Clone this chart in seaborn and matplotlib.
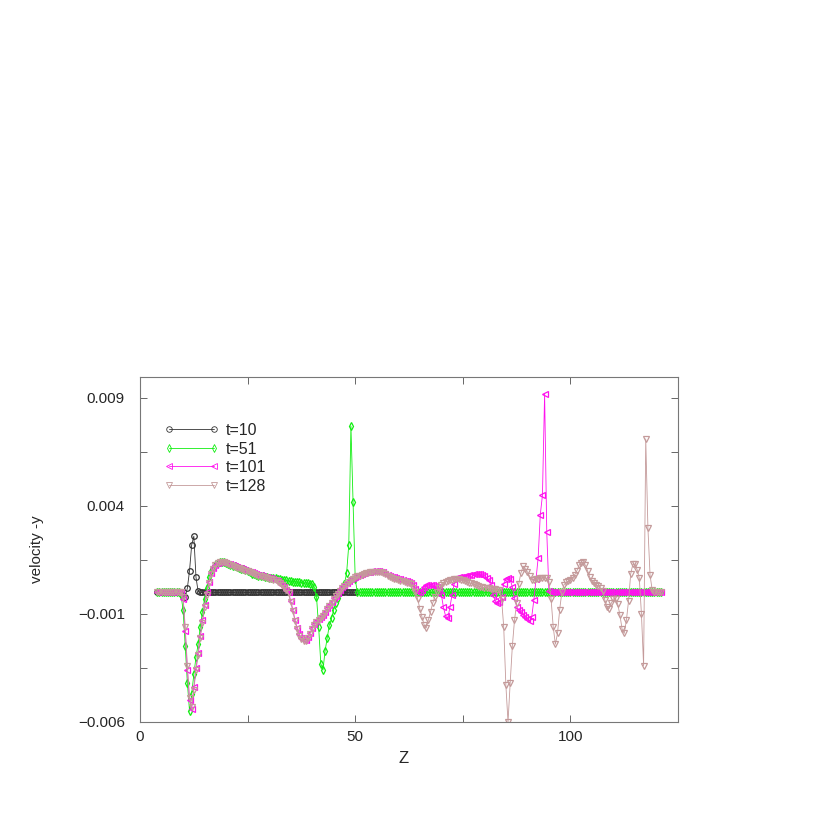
import numpy as np
import matplotlib
matplotlib.use("Agg")
import matplotlib.pyplot as plt
import seaborn as sns
import pandas as pd

# sample positions along z (step 0.5)
z_long = np.arange(4.0, 121.01, 0.5)
z_short = np.arange(4.0, 50.01, 0.5)

# velocity -y, in units of 1e-4
v_t10 = [
    0, 0, 0, 0, 0, 0, 0, 0, 0, 0, 0, 0,
    -1, -2, 2, 10, 22, 26, 7, 0.4,
    0, 0, 0, 0, 0, 0, 0, 0, 0, 0, 0, 0, 0, 0, 0, 0, 0, 0, 0, 0,
    0, 0, 0, 0, 0, 0, 0, 0, 0, 0, 0, 0, 0, 0, 0, 0, 0, 0, 0, 0,
    0, 0, 0, 0, 0, 0, 0, 0, 0, 0, 0, 0, 0, 0, 0, 0, 0, 0, 0, 0,
    0, 0, 0, 0, 0, 0, 0, 0, 0, 0, 0, 0, 0,
]

v_t51 = [
    0, 0, 0, 0, 0, 0, 0, 0, 0, 0, 0,
    -1, -8, -25, -42, -55, -47, -38, -30, -24, -16,
    -9, -3, 2, 7, 10, 11.5, 12.8, 13.5, 14, 14.2,
    14, 13.6, 13.2, 12.8, 12.4, 12, 11.6, 11.3, 11, 10.6,
    10.2, 9.7, 9.2, 8.7, 8.3, 8, 7.8, 7.6, 7.4, 7.2,
    7.0, 6.8, 6.7, 6.6, 6.5, 6.3, 6.1, 5.9, 5.7, 5.5,
    5.3, 5.1, 4.9, 4.8, 4.7, 4.6, 4.5, 4.4, 4.3, 4.2,
    4.0, 3.7, 2.5, -2, -16, -33, -36, -27, -21, -15,
    -12, -8, -5, -2.5, 0, 2, 4, 9, 22, 77,
    42, 6,
    0, 0, 0, 0, 0, 0, 0, 0, 0, 0, 0, 0, 0, 0, 0, 0, 0, 0, 0, 0,
    0, 0, 0, 0, 0, 0, 0, 0, 0, 0, 0, 0, 0, 0, 0, 0, 0, 0, 0, 0,
    0, 0, 0, 0, 0, 0, 0, 0, 0, 0, 0, 0, 0, 0, 0, 0, 0, 0, 0, 0,
    0, 0, 0, 0, 0, 0, 0, 0, 0, 0, 0, 0, 0, 0, 0, 0, 0, 0, 0, 0,
    0, 0, 0, 0, 0, 0, 0, 0, 0, 0, 0, 0, 0, 0, 0, 0, 0, 0, 0, 0,
    0, 0, 0, 0, 0, 0, 0, 0, 0, 0, 0, 0, 0, 0, 0, 0, 0, 0, 0, 0,
    0, 0, 0, 0, 0, 0, 0, 0, 0, 0, 0, 0, 0, 0, 0, 0, 0, 0, 0, 0,
    0, 0,
]

v_t101 = [
    0, 0, 0, 0, 0, 0, 0, 0, 0, 0, 0, 0,
    -3, -18, -36, -50, -54, -44, -35, -28, -20, -13,
    -6, 0, 5, 9, 11.5, 12.8, 13.6, 14, 14.2, 14,
    13.7, 13.3, 12.9, 12.5, 12.1, 11.7, 11.4, 11.1, 10.8, 10.5,
    10.1, 9.6, 9.2, 8.9, 8.6, 8.2, 7.9, 7.6, 7.3, 7.0,
    6.8, 6.6, 6.3, 5.9, 5.3, 4.5, 3.6, 2.6, 1.3, 0,
    -4, -8, -12.8, -16.5, -19.5, -21, -22, -22, -20.5, -18.8,
    -16.5, -14.5, -13.2, -12.4, -11.5, -10.5, -9, -7.4, -5.8, -4.3,
    -2.8, -1.5, -0.2, 1.1, 2.4, 3.5, 4.4, 5.2, 6, 6.7,
    7.3, 7.8, 8.2, 8.6, 8.9, 9.2, 9.4, 9.6, 9.7, 9.8,
    9.9, 9.8, 9.6, 9.2, 8.7, 8.2, 7.7, 7.3, 7.0, 6.7,
    6.4, 6.0, 5.7, 5.4, 5.1, 4.8, 4.3, 3.2, 1.5, 0.3,
    0, 1.2, 2.5, 3.3, 3.6, 3.5, 3.2, 2.8, 2.3, 1.5,
    -1, -7, -11, -12, -7, -1, 4, 6.5, 7, 7.1,
    7.2, 7.4, 7.7, 8, 8.2, 8.3, 8.4, 8.5, 8.4, 8.1,
    7.6, 6.8, 5.5, 3.5, -1, -4, -5, -4.5, -2, 4,
    6.2, 6.5, 6, 2.5, -2.5, -6.6, -8.2, -9.3, -10.3, -11.2,
    -12.2, -13.4, -11.5, -3.5, 6, 16, 36, 45, 92, 28,
    0.5,
    0, 0, 0, 0, 0, 0, 0, 0, 0, 0, 0, 0, 0, 0, 0, 0, 0, 0, 0, 0,
    0, 0, 0, 0, 0, 0, 0, 0, 0, 0, 0, 0, 0, 0, 0, 0, 0, 0, 0, 0,
    0, 0, 0, 0, 0, 0, 0, 0, 0, 0, 0, 0,
]

v_t128 = [
    0, 0, 0, 0, 0, 0, 0, 0, 0, 0, 0, 0,
    -2, -16, -34, -49, -53, -45, -36, -29, -21, -14,
    -7, -1, 4.5, 8.5, 11, 12.5, 13.4, 13.9, 14.1, 13.9,
    13.5, 13.1, 12.7, 12.3, 11.9, 11.5, 11.1, 10.8, 10.5, 10.1,
    9.7, 9.2, 8.8, 8.5, 8.2, 7.8, 7.5, 7.2, 6.9, 6.6,
    6.4, 6.2, 5.9, 5.5, 4.9, 4.1, 3.2, 2.2, 0.9, -0.5,
    -4.5, -8.5, -13.2, -17, -20, -21.8, -22.6, -22.4, -21, -19.2,
    -17, -15, -13.6, -12.8, -11.8, -10.8, -9.4, -7.8, -6.2, -4.7,
    -3.2, -1.9, -0.6, 0.7, 2, 3.1, 4, 4.8, 5.6, 6.3,
    6.9, 7.4, 7.8, 8.2, 8.5, 8.8, 9.0, 9.2, 9.3, 9.4,
    9.5, 9.4, 9.2, 8.8, 8.3, 7.7, 7.2, 6.7, 6.3, 6.0,
    5.7, 5.4, 5.1, 4.8, 4.5, 4.2, 3.7, 2.0, 0, -3,
    -7.5, -11.2, -15, -16.5, -12.8, -9, -5, -2, 0, 2.2,
    3.5, 4.2, 4.8, 5.3, 5.7, 5.9, 6, 6, 6, 5.9,
    5.6, 5.2, 4.9, 4.5, 4.1, 3.7, 3.3, 3.0, 2.7, 2.4,
    2.2, 2.0, 1.8, 1.6, 1.5, 1.4, 1.3, 1.2, -3, -16,
    -43, -60, -42, -25, -13, -5, 4, 9, 12, 11,
    9.5, 7.5, 5.9, 5.8, 6.0, 6.3, 6.5, 6.6, 6.6, 6.5,
    5, -3, -16, -24, -19, -8, 0, 3.5, 4.6, 5.2,
    5.7, 6.8, 8.2, 10, 12.5, 13.8, 14, 12.5, 10, 7,
    5.2, 4.2, 3.6, 3, 2, 0.5, -3.5, -6.8, -7.5, -5,
    -3, -3, -5.5, -10.5, -17, -19, -13, -4, 8.5, 13,
    13, 10.5, 6.5, -10, -34, 71, 30, 8, 1, 0,
    0, 0, 0,
]

labels = ["t=10", "t=51", "t=101", "t=128"]
colors = ["#333333", "#11ee11", "#ff11ee", "#c49a9a"]
markers = ["o", "d", "<", "v"]

sns.set_style("ticks")
plt.rcParams["font.family"] = ["Liberation Sans", "DejaVu Sans"]

fig = plt.figure(figsize=(8.17, 8.17), dpi=100)
ax = fig.add_axes([0.1714, 0.1163, 0.6585, 0.4223])

series = [(z_short, v_t10), (z_long, v_t51), (z_long, v_t101), (z_long, v_t128)]
for (z, v), lab, col, mk in zip(series, labels, colors, markers):
    df = pd.DataFrame({"z": z, "v": np.array(v) * 1e-4})
    sns.lineplot(data=df, x="z", y="v", ax=ax, color=col, linewidth=0.6,
                 marker=mk, markersize=4, mfc="none", mec=col, mew=0.9,
                 errorbar=None, sort=False, label=lab)

ax.set_xlim(0, 125)
ax.set_ylim(-0.006, 0.00997)
ax.set_xticks([0, 50, 100])
ax.set_xticks([25, 75, 125], minor=True)
ax.set_yticks([-0.006, -0.001, 0.004, 0.009],
              labels=["\u22120.006", "\u22120.001", "0.004", "0.009"])
ax.set_yticks([-0.0035, 0.0015, 0.0065], minor=True)
ax.tick_params(which="both", direction="in", top=True, right=True,
               length=5, width=0.7, color="#666666", labelsize=11)
ax.tick_params(axis="y", which="both", pad=11)
ax.tick_params(axis="x", which="both", pad=6)
for s in ax.spines.values():
    s.set_color("#777777")
    s.set_linewidth(0.8)

ax.set_xlabel("Z", fontsize=12)
ax.set_ylabel("velocity -y", fontsize=11)
ax.xaxis.set_label_coords(0.49, -0.085)
ax.yaxis.set_label_coords(-0.178, 0.5)

leg = ax.legend(loc="upper left", bbox_to_anchor=(0.033, 0.885), frameon=False,
                fontsize=11.5, handlelength=3.4, numpoints=2, labelspacing=0.22,
                handletextpad=0.45, borderaxespad=0)
for h in leg.legend_handles:
    h.set_markeredgewidth(0.6)

fig.savefig("out.png", dpi=100)
